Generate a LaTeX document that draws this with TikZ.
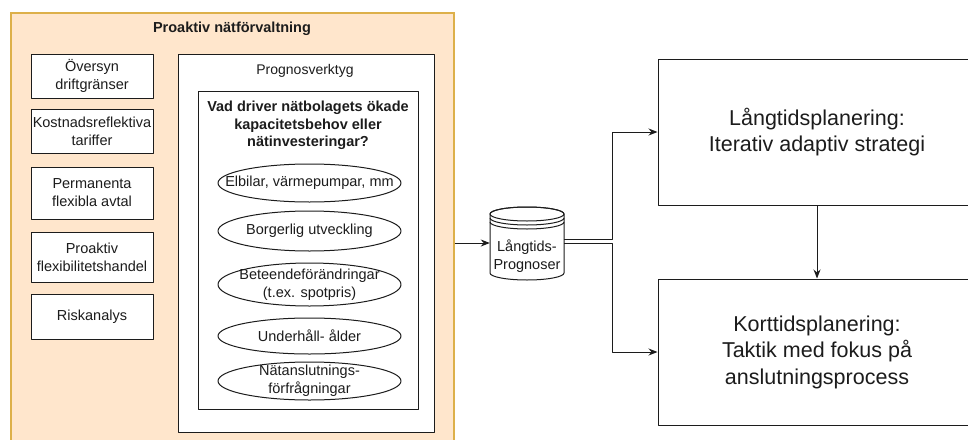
\documentclass[tikz,border=0pt]{standalone}
\usepackage{fontspec}
\setmainfont{Liberation Sans}
\usepackage{tikz}
\usetikzlibrary{arrows.meta,shapes.geometric}
\definecolor{panel}{HTML}{FFE6CC}
\definecolor{panelline}{HTML}{DDB04A}
\definecolor{ink}{HTML}{1C1C1C}
\tikzset{
  base/.style={draw=ink, line width=1pt, line join=round},
  box/.style={base, fill=white, align=center, inner sep=1pt, text=ink, font=\fontsize{14.5}{18}\selectfont},
  bigbox/.style={box, font=\fontsize{21.5}{26.5}\selectfont},
  oval/.style={base, ellipse, fill=white, align=center, inner xsep=-22pt, inner ysep=-4pt, text=ink, minimum width=183, font=\fontsize{14.5}{18}\selectfont},
  lab/.style={text=ink, align=center, inner sep=1pt, font=\fontsize{14.5}{18}\selectfont},
  labb/.style={lab, font=\fontsize{14.5}{17.5}\selectfont\bfseries},
  arr/.style={base, -{Stealth[length=9pt,width=7pt]}},
}
\begin{document}
\begin{tikzpicture}[x=1pt,y=-1pt]
  \useasboundingbox (0,0) rectangle (968,439);
  \clip (0,0) rectangle (968,439);
  % left panel
  \node[draw=panelline, fill=panel, line width=1.2pt, minimum width=443, minimum height=432] (mgmt) at (232.5,229) {};
  \node[labb] (mgmttitle) at (232,29) {Proaktiv nätförvaltning};
  \node[box, minimum width=122, minimum height=44] (drift) at (92,76) {Översyn\\driftgränser};
  \node[box, minimum width=122, minimum height=44] (tariff) at (92,131) {Kostnadsreflektiva\\tariffer};
  \node[box, minimum width=122, minimum height=52] (avtal) at (92,193) {Permanenta\\flexibla avtal};
  \node[box, minimum width=122, minimum height=50] (handel) at (92,257) {Proaktiv\\flexibilitetshandel};
  \node[box, minimum width=122, minimum height=45] (risk) at (92,316.5) {Riskanalys};
  % forecasting tool
  \node[box, minimum width=256, minimum height=378] (tool) at (306,243) {};
  \node[lab, font=\fontsize{14}{17}\selectfont] (tooltitle) at (305,71) {Prognosverktyg};
  \node[box, minimum width=220, minimum height=318] (drivers) at (308,250) {};
  \node[labb] (question) at (308,125.5) {Vad driver nätbolagets ökade\\kapacitetsbehov eller\\nätinvesteringar?};
  \node[oval, minimum height=38] (ev) at (309.5,183) {Elbilar, värmepumpar, mm};
  \node[oval, minimum height=40] (civil) at (309.5,231) {Borgerlig utveckling};
  \node[oval, minimum height=43] (behav) at (309.5,284.5) {Beteendeförändringar\\(t.ex. spotpris)};
  \node[oval, minimum height=36] (age) at (309.5,336) {Underhåll- ålder};
  \node[oval, minimum height=38] (conn) at (309.5,381) {Nätanslutnings-\\förfrågningar};
  % data store
  \draw[base, fill=white] (490,214) -- (490,273)
    arc[start angle=180, end angle=360, x radius=37pt, y radius=7pt] -- (564,214)
    arc[start angle=0, end angle=180, x radius=37pt, y radius=7pt] -- cycle;
  \draw[base] (527,214) ellipse [x radius=37pt, y radius=7pt];
  \draw[base] (490,218) arc[start angle=180, end angle=360, x radius=37pt, y radius=7pt];
  \draw[base] (490,222) arc[start angle=180, end angle=360, x radius=37pt, y radius=7pt];
  \node[minimum width=74, minimum height=73, inner sep=0pt] (db) at (527,243) {};
  \node[lab] (dbtext) at (527,256) {Långtids-\\Prognoser};
  % planning
  \node[bigbox, minimum width=318, minimum height=146] (ltp) at (817,132) {Långtidsplanering:\\Iterativ adaptiv strategi};
  \node[bigbox, minimum width=318, minimum height=146] (ktp) at (817,352) {Korttidsplanering:\\Taktik med fokus på\\anslutningsprocess};
  % connectors
  \draw[arr] (mgmt.east |- db.west) -- (db.west);
  \draw[arr] ([yshift=4pt]db.east) -- ++(48,0) |- (ltp.west);
  \draw[arr] (db.east) -- ++(48,0) |- (ktp.west);
  \draw[arr] (ltp.south) -- (ktp.north);
\end{tikzpicture}
\end{document}
